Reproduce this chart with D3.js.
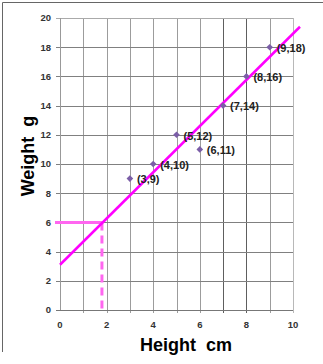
<!DOCTYPE html>
<html><head><meta charset="utf-8">
<script src="https://cdn.jsdelivr.net/npm/d3@7"></script>
<style>body{margin:0;background:#fff}svg{display:block}</style>
</head><body>
<script>
const heights = [3, 4, 5, 6, 7, 8, 9];
const weights = [9, 10, 12, 11, 14, 16, 18];
const pointLabels = ["(3,9)", "(4,10)", "(5,12)", "(6,11)", "(7,14)", "(8,16)", "(9,18)"];
const fitLineX = [0, 10.3];
const fitLineY = [3.1, 19.4];
const readX = 1.8;
const readY = 6;
const xTicks = [0, 2, 4, 6, 8, 10];
const yTicks = [0, 2, 4, 6, 8, 10, 12, 14, 16, 18, 20];
const xTitle = "Height  cm";
const yTitle = "Weight  g";

const W = 323, H = 364;
const svg = d3.select("body").append("svg").attr("width", W).attr("height", H);
const x = d3.scaleLinear().domain([0, 10]).range([60, 293]);
const y = d3.scaleLinear().domain([0, 20]).range([310, 18]);

// frame
svg.append("path").attr("d", "M2.5,352 L2.5,2.5 L323,2.5").attr("fill", "none").attr("stroke", "#666").attr("stroke-width", 1);

// vertical grid
const g = svg.append("g").attr("shape-rendering", "crispEdges");
d3.range(1, 11).forEach(v => {
  g.append("line").attr("x1", Math.round(x(v)) + 0.5).attr("x2", Math.round(x(v)) + 0.5)
    .attr("y1", y(20)).attr("y2", y(0) + 3)
    .attr("stroke", (v === 7 || v === 8) ? "#5e5e5e" : (v === 10 ? "#b8b8b8" : "#9c9c9c"));
});
// horizontal grid
yTicks.forEach(v => {
  if (v === 0) return;
  g.append("line").attr("x1", x(0) - 4).attr("x2", x(10))
    .attr("y1", Math.round(y(v)) + 0.5).attr("y2", Math.round(y(v)) + 0.5)
    .attr("stroke", v === 20 ? "#aaa" : "#808080");
});
// axes
g.append("line").attr("x1", Math.round(x(0)) + 0.5).attr("x2", Math.round(x(0)) + 0.5)
  .attr("y1", y(20)).attr("y2", y(0)).attr("stroke", "#999");
g.append("line").attr("x1", x(0) - 4).attr("x2", x(10))
  .attr("y1", Math.round(y(0)) + 0.5).attr("y2", Math.round(y(0)) + 0.5).attr("stroke", "#777");

// tick labels
svg.append("g").selectAll("text").data(yTicks).join("text")
  .attr("x", 51).attr("y", d => y(d)).attr("dy", "0.35em").attr("text-anchor", "end")
  .attr("font-family", "Arial, 'Liberation Sans', sans-serif").attr("font-size", 9.5).attr("font-weight", "bold")
  .attr("fill", "#333").text(d => d);
svg.append("g").selectAll("text").data(xTicks).join("text")
  .attr("x", d => x(d)).attr("y", 325).attr("dy", "0.35em").attr("text-anchor", "middle")
  .attr("font-family", "Arial, 'Liberation Sans', sans-serif").attr("font-size", 9.5).attr("font-weight", "bold")
  .attr("fill", "#333").text(d => d);

// guide lines for reading
svg.append("line").attr("x1", x(0) - 5).attr("x2", x(readX)).attr("y1", y(readY)).attr("y2", y(readY))
  .attr("stroke", "#ff66f0").attr("stroke-width", 3);
svg.append("line").attr("x1", x(readX)).attr("x2", x(readX)).attr("y1", y(readY)).attr("y2", y(0) + 3)
  .attr("stroke", "#ff66f0").attr("stroke-width", 3).attr("stroke-dasharray", "8,5");

// fit line
svg.append("line").attr("x1", x(fitLineX[0])).attr("y1", y(fitLineY[0]))
  .attr("x2", x(fitLineX[1])).attr("y2", y(fitLineY[1]))
  .attr("stroke", "#ff00ff").attr("stroke-width", 2.5);

// points (square rotated 45° = diamond)
const sym = d3.symbol().type(d3.symbolSquare).size(22);
svg.append("g").selectAll("path").data(heights).join("path")
  .attr("d", sym).attr("transform", (d, i) => `translate(${x(d)},${y(weights[i])}) rotate(45)`)
  .attr("fill", "#7b5ea7");
svg.append("g").selectAll("text").data(heights).join("text")
  .attr("x", d => x(d) + 7).attr("y", (d, i) => y(weights[i]) + 1).attr("dy", "0.35em")
  .attr("font-family", "Arial, 'Liberation Sans', sans-serif").attr("font-size", 11).attr("font-weight", "bold")
  .attr("fill", "#222").text((d, i) => pointLabels[i]);

// axis titles
svg.append("text").attr("transform", "translate(34,156) rotate(-90)").attr("text-anchor", "middle")
  .attr("font-family", "Arial, 'Liberation Sans', sans-serif").attr("font-size", 18).attr("font-weight", "bold")
  .attr("fill", "#000").style("white-space", "pre").text(yTitle);
svg.append("text").attr("x", 186).attr("y", 351).attr("text-anchor", "middle")
  .attr("font-family", "Arial, 'Liberation Sans', sans-serif").attr("font-size", 18).attr("font-weight", "bold")
  .attr("fill", "#000").style("white-space", "pre").text(xTitle);
</script>
</body></html>
